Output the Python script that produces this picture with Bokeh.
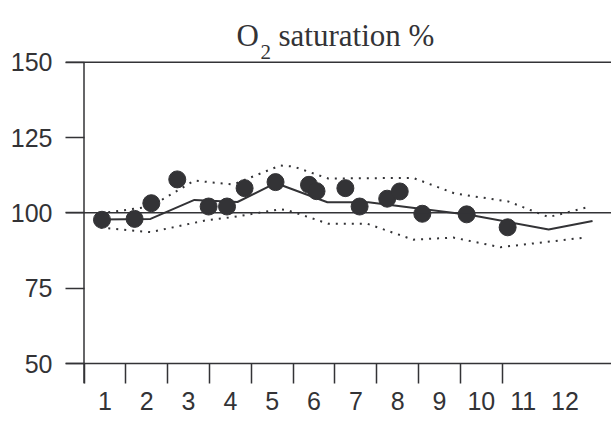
from bokeh.plotting import figure
from bokeh.models import Span, FixedTicker, Range1d
from bokeh.core.properties import value
from bokeh.embed import file_html
from bokeh.resources import INLINE

# ---- data ----
obs_x = [0.93, 1.71, 2.11, 2.73, 3.48, 3.92, 4.34, 5.08, 5.88, 6.06, 6.75, 7.09, 7.75, 8.05, 8.59, 9.65, 10.63]
obs_y = [97.7, 98.0, 103.2, 111.1, 102.1, 102.1, 108.2, 110.2, 109.3, 107.2, 108.2, 102.1, 104.7, 107.1, 99.7, 99.5, 95.2]

mean_x = [0.89, 2.09, 3.14, 4.17, 5.08, 6.32, 7.30, 9.74, 11.61, 12.66]
mean_y = [97.8, 98.0, 104.3, 103.6, 109.9, 103.5, 103.5, 99.3, 94.5, 97.3]

upper_x = [0.89, 2.09, 3.14, 4.07, 5.19, 5.50, 6.34, 8.37, 9.37, 10.64, 11.61, 12.61]
upper_y = [99.8, 102.1, 110.7, 109.4, 115.7, 115.4, 111.4, 111.6, 106.4, 103.8, 98.6, 102.1]

lower_x = [0.89, 2.09, 3.41, 4.07, 5.19, 5.38, 6.34, 7.27, 8.37, 9.33, 10.46, 12.54]
lower_y = [95.1, 93.6, 97.5, 98.6, 101.2, 100.8, 96.4, 96.4, 91.1, 91.8, 88.6, 91.9]

x_labels = [1, 2, 3, 4, 5, 6, 7, 8, 9, 10, 11, 12]
y_ticks = [50, 75, 100, 125, 150]
ref_lines = [50, 100, 150]

INK = "#333336"

# pixel scale helpers (page px -> data), used only for text placement
def dx(px):
    return 0.5 + (px - 83.5) / 41.82

def dy(py):
    return 150 + (61.7 - py) / 3.013

p = figure(width=611, height=423, output_backend="svg", toolbar_location=None,
           x_range=Range1d(dx(65), dx(611)), y_range=Range1d(dy(383), dy(0)),
           min_border_left=65, min_border_right=0, min_border_top=0, min_border_bottom=40)
p.outline_line_color = None
p.xgrid.visible = False
p.ygrid.visible = False
p.background_fill_color = "white"
p.border_fill_color = "white"

# axes
xa = p.xaxis[0]
xa.ticker = FixedTicker(ticks=x_labels, minor_ticks=[k - 0.5 for k in x_labels[:-1]])
xa.axis_line_color = None
xa.major_tick_in = 0
xa.major_tick_out = 0
xa.minor_tick_in = 20
xa.minor_tick_out = 0
xa.minor_tick_line_color = INK
xa.minor_tick_line_width = 1.5
xa.major_label_text_font = "Liberation Sans"
xa.major_label_text_font_size = "25px"
xa.major_label_text_color = INK
xa.major_label_standoff = 8

ya = p.yaxis[0]
ya.ticker = FixedTicker(ticks=y_ticks, minor_ticks=[])
ya.axis_line_color = None
ya.major_tick_in = 19
ya.major_tick_out = 0
ya.major_tick_line_color = INK
ya.major_tick_line_width = 1.5
ya.major_label_text_font = "Liberation Sans"
ya.major_label_text_font_size = "25px"
ya.major_label_text_color = INK
ya.major_label_standoff = 13

for v in ref_lines:
    p.add_layout(Span(location=v, dimension="width", line_color=INK, line_width=1.5))
# vertical axis line from the bottom of the frame up to 150
p.segment(x0=[0.5], y0=[dy(383)], x1=[0.5], y1=[max(y_ticks)], line_color=INK, line_width=1.5)

# bands and mean
p.line(upper_x, upper_y, line_color=INK, line_width=2, line_dash="2 6")
p.line(lower_x, lower_y, line_color=INK, line_width=2, line_dash="2 6")
p.line(mean_x, mean_y, line_color=INK, line_width=2)
p.scatter(obs_x, obs_y, size=17, fill_color=INK, line_color=INK)

# title pieces
p.text(x=[dx(236)], y=[dy(35)], text=["O"], text_font=value("Liberation Serif"),
       text_font_size="31px", text_color=INK, text_baseline="alphabetic")
p.text(x=[dx(260)], y=[dy(51)], text=["2"], text_font=value("Liberation Serif"),
       text_font_size="21px", text_color=INK, text_baseline="alphabetic")
p.text(x=[dx(278)], y=[dy(35)], text=["saturation %"], text_font=value("Liberation Serif"),
       text_font_size="31px", text_color=INK, text_baseline="alphabetic")

open("out.html", "w").write(file_html(p, INLINE))
